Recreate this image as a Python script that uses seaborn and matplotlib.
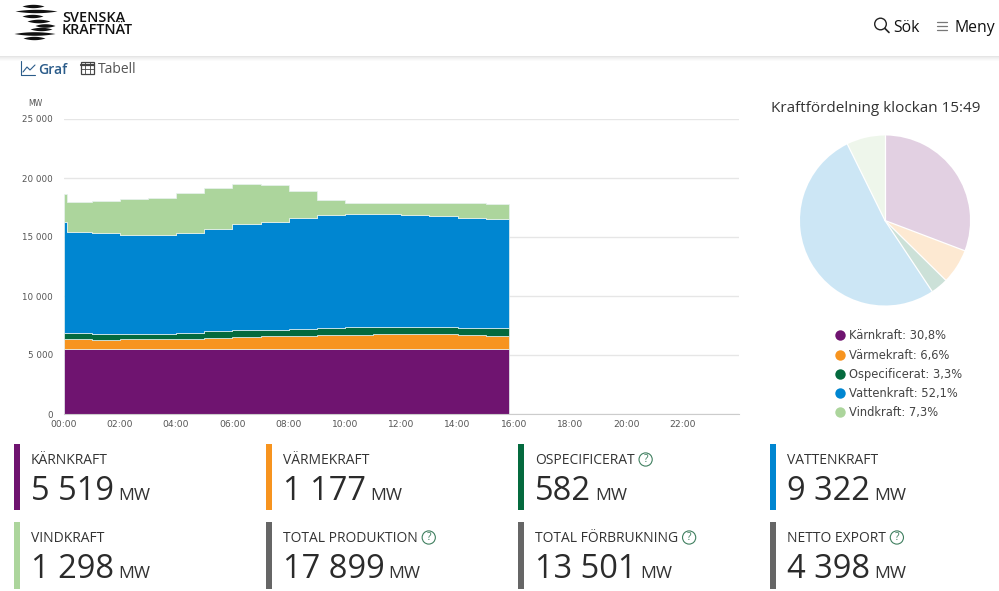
import numpy as np
import pandas as pd
import matplotlib
matplotlib.use("Agg")
import matplotlib.pyplot as plt
from matplotlib.lines import Line2D
from matplotlib.patches import Circle, Rectangle
import seaborn as sns

W, H = 999, 591

# staplar per timme, forsta korta intervallet ar toppen vid midnatt
hour_edges = [0, 0.12, 1, 2, 3, 4, 5, 6, 7, 8, 9, 10, 11, 12, 13, 14, 15, 15.82]
karnkraft = [5520] * 16 + [5519]
varmekraft = [850, 850, 770, 800, 800, 830, 940, 1000, 1110, 1110, 1195, 1195, 1220, 1220, 1220, 1140, 1130]
ospecificerat = [510, 510, 505, 475, 475, 500, 560, 560, 530, 535, 585, 620, 595, 595, 595, 620, 610]
vattenkraft = [9410, 8560, 8535, 8415, 8415, 8530, 8620, 9060, 9130, 9465, 9590, 9635, 9635, 9555, 9435, 9320, 9240]
vindkraft = [2340, 2516, 2710, 2970, 3080, 3310, 3500, 3370, 3100, 2290, 1260, 950, 920, 1000, 1100, 1240, 1270]

sources = ["Kärnkraft", "Värmekraft", "Ospecificerat", "Vattenkraft", "Vindkraft"]
colors = ["#6f1470", "#f7941f", "#046a3e", "#0086d1", "#acd59c"]
shares = [30.8, 6.6, 3.3, 52.1, 7.3]

y_ticks = [0, 5000, 10000, 15000, 20000, 25000]
y_labels = ["0", "5 000", "10 000", "15 000", "20 000", "25 000"]
x_ticks = [0, 2, 4, 6, 8, 10, 12, 14, 16, 18, 20, 22]
x_labels = ["00:00", "02:00", "04:00", "06:00", "08:00", "10:00", "12:00", "14:00", "16:00", "18:00", "20:00", "22:00"]

card_names = ["KÄRNKRAFT", "VÄRMEKRAFT", "OSPECIFICERAT", "VATTENKRAFT",
              "VINDKRAFT", "TOTAL PRODUKTION", "TOTAL FÖRBRUKNING", "NETTO EXPORT"]
card_values = ["5 519", "1 177", "582", "9 322", "1 298", "17 899", "13 501", "4 398"]
card_colors = colors[:4] + [colors[4], "#666666", "#666666", "#666666"]
card_help = [False, False, True, False, False, True, True, True]

sns.set_theme(style="white")
plt.rcParams["font.family"] = ["Open Sans", "DejaVu Sans"]
TEXT = "#333333"
TICK = "#555555"
SANS = ["DejaVu Sans"]


def px_axes(left, top, right, bottom, **kw):
    return fig.add_axes([left / W, 1 - bottom / H, (right - left) / W, (bottom - top) / H], **kw)


fig = plt.figure(figsize=(W / 100, H / 100), dpi=100, facecolor="white")

# sidan i pixelkoordinater: sidhuvud, ikoner och kort
page = fig.add_axes([0, 0, 1, 1], zorder=0)
page.set_xlim(0, W)
page.set_ylim(H, 0)
page.axis("off")

for i, a in enumerate([0.10, 0.07, 0.05, 0.03, 0.015]):
    page.add_patch(Rectangle((0, 55.5 + i), W, 1, color="black", alpha=a, lw=0))

# logga
stripes = [(6, 22, 44, 1.7), (11, 15, 57, 1.7), (16, 22, 43, 1.7), (21, 27, 50, 1.8),
           (25.5, 35, 55, 1.8), (29, 30, 52, 1.7), (33.5, 14, 55, 1.8), (38, 23, 45, 1.7)]
for yc, x0, x1, h in stripes:
    t = np.linspace(-1, 1, 40)
    page.fill_between((x0 + x1) / 2 + t * (x1 - x0) / 2, yc - h * (1 - t ** 2), yc + h * (1 - t ** 2), color="#111111", lw=0)
page.text(62, 17.5, "SVENSKA", fontsize=10.4, fontweight=600, color="#111111", va="center")
page.text(62, 30.5, "KRAFTNÄT", fontsize=10.3, fontweight=600, color="#111111", va="center")

# sok och meny
page.add_patch(Circle((880.5, 24), 5.8, fill=False, ec="#222222", lw=1))
page.plot([885, 889], [28.5, 32.5], color="#222222", lw=1.2)
page.text(893, 27.5, "Sök", fontsize=11.3, color="#111111", va="center")
page.plot([937, 947], [22, 22], color="#777777", lw=0.9)
page.plot([937, 947], [26, 26], color="#777777", lw=0.9)
page.plot([937, 947], [30, 30], color="#777777", lw=0.9)
page.text(954, 27.5, "Meny", fontsize=11.3, color="#111111", va="center")

# flikar
BLUE = "#2b5c8a"
page.plot([21, 21, 35], [61, 75, 75], color=BLUE, lw=0.8)
page.plot([23, 27, 30, 35], [72, 67, 70, 65], color=BLUE, lw=0.8)
page.text(38, 69.5, "Graf", fontsize=10, fontweight=600, color=BLUE, va="center")
page.add_patch(Rectangle((80.5, 62), 13, 12, fill=False, ec="#444444", lw=0.9))
page.plot([80.5, 93.5], [65, 65], color="#444444", lw=1.6)
page.plot([80.5, 93.5], [69, 69], color="#444444", lw=0.6)
page.plot([85, 85], [62, 74], color="#444444", lw=0.6)
page.plot([89.5, 89.5], [62, 74], color="#444444", lw=0.6)
page.text(98, 69.5, "Tabell", fontsize=10, color="#555555", va="center")

# staplade ytor
df = pd.concat([
    pd.DataFrame({
        "hour": (np.array(hour_edges[:-1]) + np.array(hour_edges[1:])) / 2,
        "source": name,
        "mw": values,
    })
    for name, values in zip(sources, [karnkraft, varmekraft, ospecificerat, vattenkraft, vindkraft])
])

ax = px_axes(63.5, 119, 739, 414, zorder=1)
ax.patch.set_alpha(0)
sns.histplot(data=df, x="hour", weights="mw", hue="source", hue_order=sources[::-1],
             palette=dict(zip(sources, colors)), multiple="stack", bins=hour_edges,
             element="step", alpha=1, linewidth=0.5, edgecolor="#e8f2f0", legend=False, ax=ax)
ax.set_xlim(0, 24)
ax.set_ylim(0, 25000)
ax.set_xlabel("")
ax.set_ylabel("")
ax.set_yticks(y_ticks, y_labels)
ax.set_xticks(x_ticks, x_labels)
ax.grid(axis="y", color="#e6e6e6", lw=1)
ax.set_axisbelow(True)
ax.tick_params(axis="y", length=0, pad=7.5, labelsize=6.3, labelcolor=TICK)
ax.tick_params(axis="x", length=4, width=0.8, color="#cccccc", pad=0.5, labelsize=6.6, labelcolor=TICK)
for lab in ax.get_xticklabels() + ax.get_yticklabels():
    lab.set_family(SANS)
for side in ["top", "left", "right"]:
    ax.spines[side].set_visible(False)
ax.spines["bottom"].set_color("#cccccc")
ax.spines["bottom"].set_linewidth(0.8)
page.text(35, 104, "MW", fontsize=5.6, family=SANS, color=TICK, ha="center", va="center")

# cirkeldiagram
page.text(876, 109, "Kraftfördelning klockan 15:49", fontsize=11, color=TEXT, ha="center", va="center")
pie_ax = px_axes(795, 130.5, 975, 310.5, zorder=1)
wedges, _ = pie_ax.pie(shares, colors=colors, startangle=90, counterclock=False, radius=85 / 90,
                       wedgeprops={"alpha": 0.2, "linewidth": 0})
for i in range(len(shares)):
    ang = np.deg2rad(wedges[i].theta2)
    pie_ax.plot([0, np.cos(ang) * 85 / 90], [0, np.sin(ang) * 85 / 90], color="white", lw=0.9)
pie_ax.set_xlim(-1, 1)
pie_ax.set_ylim(-1, 1)

handles = [Line2D([], [], ls="", marker="o", ms=7.5, mfc=c, mec="none") for c in colors]
labels = [f"{n}: {str(s).replace('.', ',')}%" for n, s in zip(sources, shares)]
page.legend(handles, labels, loc="upper left", bbox_to_anchor=(828 / W, 1 - 329.5 / H),
            bbox_transform=fig.transFigure, frameon=False, handletextpad=-0.2, labelspacing=0.53,
            prop={"family": SANS, "size": 8.3}, labelcolor="#444444", borderpad=0, borderaxespad=0)

# kort
fig.canvas.draw()
renderer = fig.canvas.get_renderer()
for i, (name, value, c, has_help) in enumerate(zip(card_names, card_values, card_colors, card_help)):
    col, row = i % 4, i // 4
    x0 = 14 + col * 252
    y0 = 444 + row * 78
    page.add_patch(Rectangle((x0, y0), 6, 66 + row, color=c, lw=0))
    lab = page.text(x0 + 17, y0 + 17, name, fontsize=10, color=TEXT, va="center")
    val = page.text(x0 + 17, y0 + 47, value, fontsize=23.5, fontweight=500, color="#2b2b2b", va="center")
    x_val = val.get_window_extent(renderer).x1
    page.text(x_val + 4, y0 + 51.5, "MW", fontsize=12.6, color=TEXT, va="center")
    if has_help:
        x_lab = lab.get_window_extent(renderer).x1
        page.add_patch(Circle((x_lab + 11, y0 + 15.5), 6.6, fill=False, ec="#3f7f5f", lw=0.8))
        page.text(x_lab + 11, y0 + 15.5, "?", fontsize=7.5, color="#3f7f5f", ha="center", va="center")

fig.savefig("out.png", dpi=100)
